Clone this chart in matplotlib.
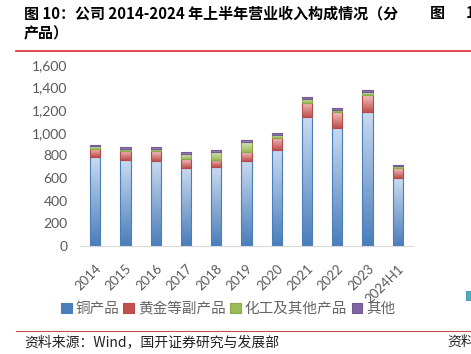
import numpy as np
import matplotlib.pyplot as plt
from matplotlib.colors import LinearSegmentedColormap
from matplotlib.patches import Patch, Rectangle
from matplotlib.lines import Line2D

plt.rcParams['font.family'] = ['Noto Sans CJK SC', 'DejaVu Sans']

# data (revenue by product, H1 each year)
years = ['2014', '2015', '2016', '2017', '2018', '2019', '2020',
         '2021', '2022', '2023', '2024H1']
copper = [785, 760, 755, 693, 696, 752, 850, 1139, 1047, 1188, 600]
gold = [76, 83, 86, 77, 65, 77, 108, 124, 136, 148, 88]
chem = [19, 18, 17, 44, 74, 89, 24, 38, 23, 24, 15]
other = [14, 15, 16, 15, 17, 17, 18, 18, 18, 21, 12]
series_names = ['铜产品', '黄金等副产品', '化工及其他产品', '其他']
# light (top) -> dark (bottom), edge colour
styles = [('#c9daf0', '#4a7ebb', '#4a7ebb'),
          ('#f0c4c3', '#c0504d', '#b84a47'),
          ('#dce8c4', '#9bbb59', '#8aab4a'),
          ('#d2c7e0', '#8064a2', '#735995')]

fig = plt.figure(figsize=(4.71, 3.54), dpi=100)
ax = fig.add_axes([80/471, 1-246/354, 333/471, 181/354])

x = np.arange(len(years))
w = 0.34
bottom = np.zeros(len(years))
grad = np.linspace(0, 1, 64).reshape(-1, 1)
for vals, (light, dark, edge) in zip([copper, gold, chem, other], styles):
    bars = ax.bar(x, vals, w, bottom=bottom, facecolor='none',
                  edgecolor=edge, linewidth=0.8, zorder=3)
    cmap = LinearSegmentedColormap.from_list('g', [dark, light])
    for p in bars:
        x0, y0 = p.get_x(), p.get_y()
        im = ax.imshow(grad, cmap=cmap, extent=(x0, x0 + p.get_width(), y0, y0 + p.get_height()),
                       origin='lower', aspect='auto', zorder=2, interpolation='bilinear')
        im.set_clip_path(p)
    bottom += np.array(vals)

ax.set_xlim(-0.5, len(years) - 0.5)
ax.set_ylim(0, 1600)
ax.set_yticks(range(0, 1601, 200))
ax.set_yticklabels([f'{v:,}' for v in range(0, 1601, 200)], family='Lato',
                   fontsize=10, color='#595959')
ax.set_xticks(x)
ax.set_xticklabels(years, rotation=45, ha='right', va='top', rotation_mode='anchor',
                   family='Lato', fontsize=9.5, color='#595959')
for s in ['left', 'right', 'top']:
    ax.spines[s].set_visible(False)
ax.spines['bottom'].set_color('#d9d9d9')
ax.tick_params(axis='both', length=0)
ax.tick_params(axis='y', pad=9)
ax.tick_params(axis='x', pad=12)

handles = [Patch(facecolor=st[1], edgecolor=st[2], linewidth=0.8) for st in styles]
fig.legend(handles, series_names, loc='center', bbox_to_anchor=(228/471, 1-309/354),
           ncol=4, frameon=False, fontsize=10.5, handlelength=0.75, handleheight=0.75,
           handletextpad=0.25, columnspacing=0.3, labelcolor='#666666')

# header / footer
fig.text(24/471, 1-13/354, '图 10：公司 2014-2024 年上半年营业收入构成情况（分',
         fontsize=10.8, fontweight='bold', va='center', ha='left')
fig.text(24/471, 1-33/354, '产品）', fontsize=10.8, fontweight='bold', va='center', ha='left')
fig.text(430/471, 1-13/354, '图', fontsize=10.8, fontweight='bold', va='center', ha='left')
fig.text(466/471, 1-13/354, '1', fontsize=10.8, fontweight='bold', va='center', ha='left')
fig.add_artist(Line2D([16/471, 1], [1-50.5/354, 1-50.5/354], color='#e03c44', lw=1.3))
fig.add_artist(Line2D([16/471, 1], [1-331/354, 1-331/354], color='#c0504d', lw=0.8))
fig.add_artist(Rectangle((466/471, 1-300/354), 8/471, 9/354, facecolor='#4bacc6',
                         edgecolor='#3a8fa8', lw=0.6))
fig.text(24/471, 1-342/354, '资料来源：Wind，国开证券研究与发展部', fontsize=10,
         va='center', ha='left', color='#222222')
fig.text(447/471, 1-342/354, '资料', fontsize=10, va='center', ha='left', color='#222222')

fig.savefig('out.png', dpi=100)
